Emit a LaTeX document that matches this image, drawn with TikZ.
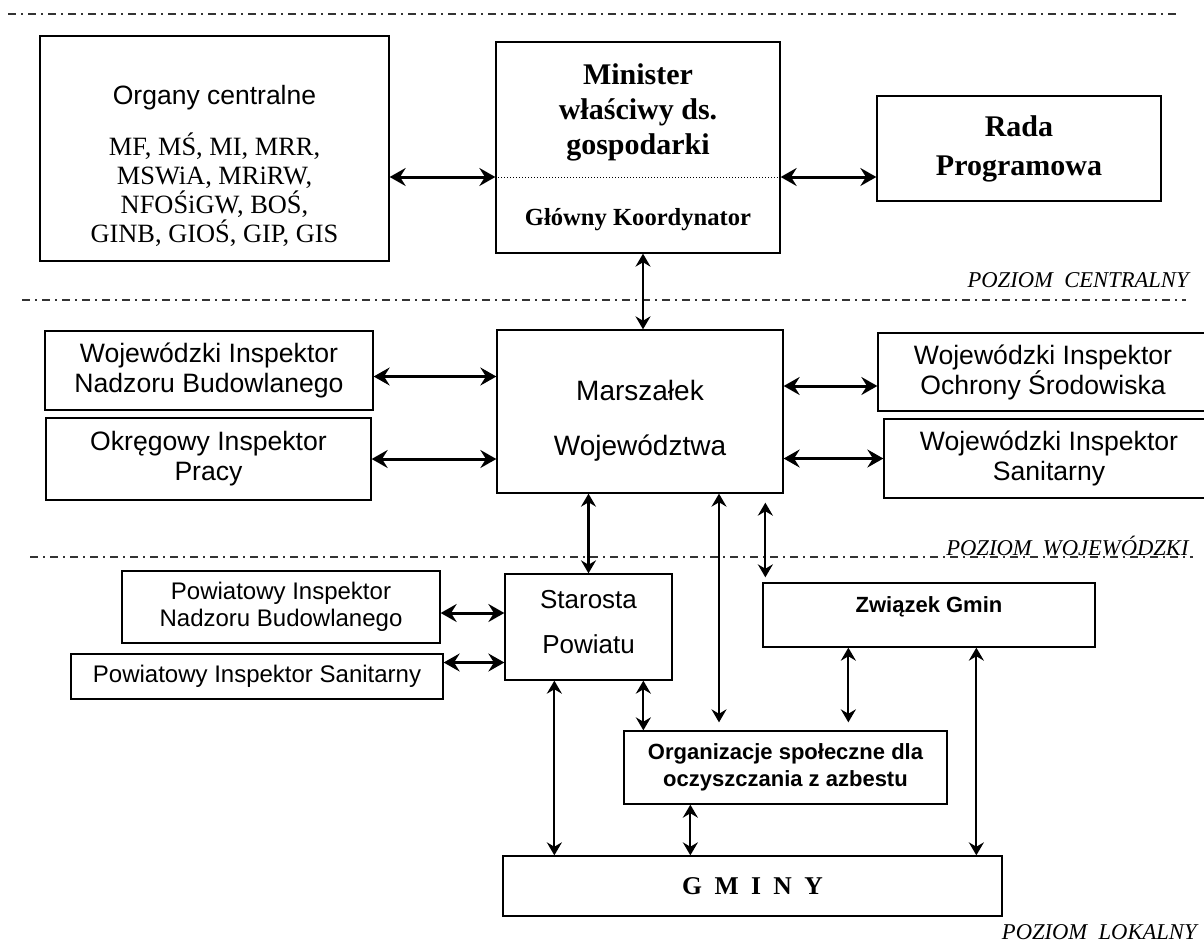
\documentclass[tikz,border=0pt]{standalone}
\usepackage{fontspec}
\setmainfont{Liberation Serif}
\setsansfont{Liberation Sans}
\usetikzlibrary{arrows.meta}

\newcommand{\gminyfont}{\bfseries\fontsize{12.8}{14}\selectfont\spaceskip=6.2pt\relax}

\tikzset{
  box/.style={draw, line width=0.65pt, inner sep=0pt, align=center},
  insp/.style={box, font=\sffamily\fontsize{13.3}{15}\selectfont},
  link/.style={<->, >={Stealth[length=8pt,width=9pt,inset=2.8pt]}, line width=1.5pt},
  vlink/.style={<->, >={Stealth[length=6.5pt,width=7.5pt,inset=2.2pt]}, line width=1.1pt},
  level/.style={draw=black!80, line width=0.6pt, dash pattern=on 4pt off 2.5pt on 1pt off 2.5pt},
  levtext/.style={font=\itshape\fontsize{11.3}{13}\selectfont, anchor=base east, inner sep=0pt}
}

\begin{document}
\begin{tikzpicture}[x=0.5pt, y=-0.5pt]
\useasboundingbox (0,0) rectangle (1204,942);
\clip (0,0) rectangle (1204,942);

        % levels
            \draw[level] (8,14) -- (1176,14);
            \draw[level] (22,300) -- (1186,300);
            \draw[level] (30,557) -- (1193,557);
            \node[levtext] (lcentr) at (1189,287) {POZIOM\ \ CENTRALNY};
            \node[levtext] (lwoj) at (1189,555) {POZIOM\ \ WOJEWÓDZKI};
            \node[levtext] (llok) at (1197,939) {POZIOM\ \ LOKALNY};

        % central level
            \node[box, minimum width=174.5pt, minimum height=112.5pt] (organy) at (214.5,148.5) {};
            \node[font=\sffamily\fontsize{13.25}{15}\selectfont] (organyT) at (214.5,98) {Organy centralne};
            \node[font=\fontsize{13.2}{14.5}\selectfont, align=center] (organyL) at (214.5,190)
                {MF, MŚ, MI, MRR,\\MSWiA, MRiRW,\\NFOŚiGW, BOŚ,\\GINB, GIOŚ, GIP, GIS};

            \node[box, minimum width=142pt, minimum height=105.5pt] (minister) at (638,147.5) {};
            \node[font=\bfseries\fontsize{15}{17.5}\selectfont, align=center] (ministerT) at (638,112)
                {Minister\\właściwy ds.\\gospodarki};
            \node[font=\bfseries\fontsize{12.3}{14}\selectfont] (koord) at (638,220) {Główny Koordynator};
            \coordinate (mdivL) at ([yshift=-14.75pt]minister.west);
            \coordinate (mdivR) at ([yshift=-14.75pt]minister.east);
            \draw[densely dotted, line width=0.5pt] (mdivL) -- (mdivR);

            \node[box, minimum width=142pt, minimum height=52.5pt, font=\bfseries\fontsize{15}{19.5}\selectfont]
                (rada) at (1019,148.5) {Rada\\Programowa};

            \draw[link] (organy.east |- mdivL) -- (mdivL);
            \draw[link] (mdivR) -- (rada.west |- mdivR);

        % voivodeship level
            \node[insp, minimum width=164pt, minimum height=39.5pt] (winb) at (209,370.5)
                {Wojewódzki Inspektor\\Nadzoru Budowlanego};
            \node[insp, minimum width=162.5pt, minimum height=41pt] (oip) at (208.5,459)
                {Okręgowy Inspektor\\Pracy};
            \node[box, minimum width=143pt, minimum height=81.5pt] (marszalek) at (640,411.5) {};
            \node[font=\sffamily\fontsize{14}{27.5}\selectfont, align=center] (marszalekT) at (640,420.5)
                {Marszałek\\Województwa};
            \node[insp, minimum width=165pt, minimum height=39pt] (wios) at (1043,372)
                {Wojewódzki Inspektor\\Ochrony Środowiska};
            \node[insp, minimum width=165pt, minimum height=39.5pt] (wis) at (1049,458.5)
                {Wojewódzki Inspektor\\Sanitarny};

            \coordinate (m0) at ([xshift=2.5pt]minister.south);
            \draw[vlink] (m0) -- (m0 |- marszalek.north);
            \coordinate (w1) at ([yshift=-3pt]winb.east);
            \draw[link] (w1) -- (w1 -| marszalek.west);
            \draw[link] (oip.east) -- (oip.east -| marszalek.west);
            \coordinate (w2) at ([yshift=-7pt]wios.west);
            \draw[link] (w2 -| marszalek.east) -- (w2);
            \draw[link] (wis.west -| marszalek.east) -- (wis.west);

        % local level
            \node[box, minimum width=83.5pt, minimum height=53pt] (starosta) at (588.5,627) {};
            \node[font=\sffamily\fontsize{13}{22.5}\selectfont, align=center] (starostaT) at (588.5,622.5)
                {Starosta\\Powiatu};
            \node[box, font=\sffamily\fontsize{12}{13.5}\selectfont, minimum width=159pt, minimum height=36pt]
                (pinb) at (281,607) {Powiatowy Inspektor\\Nadzoru Budowlanego};
            \node[box, font=\sffamily\fontsize{12}{13.5}\selectfont, minimum width=186pt, minimum height=22.5pt]
                (pis) at (257,676.5) {Powiatowy Inspektor Sanitarny};
            \node[box, minimum width=166pt, minimum height=32pt] (zwiazek) at (929,615) {};
            \node[font=\sffamily\bfseries\fontsize{11}{13}\selectfont] (zwiazekT) at (929,607) {Związek Gmin};
            \node[box, font=\sffamily\bfseries\fontsize{11}{13.5}\selectfont, minimum width=161.5pt, minimum height=36.5pt]
                (org) at (785.5,767.5) {Organizacje społeczne dla\\oczyszczania z azbestu};
            \node[box, font=\gminyfont, minimum width=249.5pt, minimum height=30pt]
                (gminy) at (752.5,886) {G M I N Y};

            \draw[vlink] (starosta.north |- marszalek.south) -- (starosta.north);
            \coordinate (m1) at ([xshift=39.5pt]marszalek.south);
            \draw[vlink, shorten >=4pt] (m1) -- (m1 |- org.north);
            \coordinate (z0) at ([xshift=1.5pt]zwiazek.north west);
            \draw[vlink, shorten <=4.5pt, shorten >=2.5pt] (z0 |- marszalek.south) -- (z0);

            \coordinate (s1) at ([yshift=-3pt]pinb.east);
            \draw[link] (s1) -- (s1 -| starosta.west);
            \coordinate (s2) at ([yshift=7pt]pis.east);
            \draw[link] (s2) -- (s2 -| starosta.west);

            \coordinate (o1) at ([xshift=10pt]org.north west);
            \draw[vlink] (o1 |- starosta.south) -- (o1);
            \coordinate (g1) at ([xshift=26pt]gminy.north west);
            \draw[vlink] (g1 |- starosta.south) -- (g1);
            \coordinate (z1) at ([xshift=43pt]zwiazek.south west);
            \draw[vlink, shorten >=4pt] (z1) -- (z1 |- org.north);
            \coordinate (z2) at ([xshift=107pt]zwiazek.south west);
            \draw[vlink] (z2) -- (z2 |- gminy.north);
            \coordinate (o2) at ([xshift=33.5pt]org.south west);
            \draw[vlink] (o2) -- (o2 |- gminy.north);

\end{tikzpicture}
\end{document}
